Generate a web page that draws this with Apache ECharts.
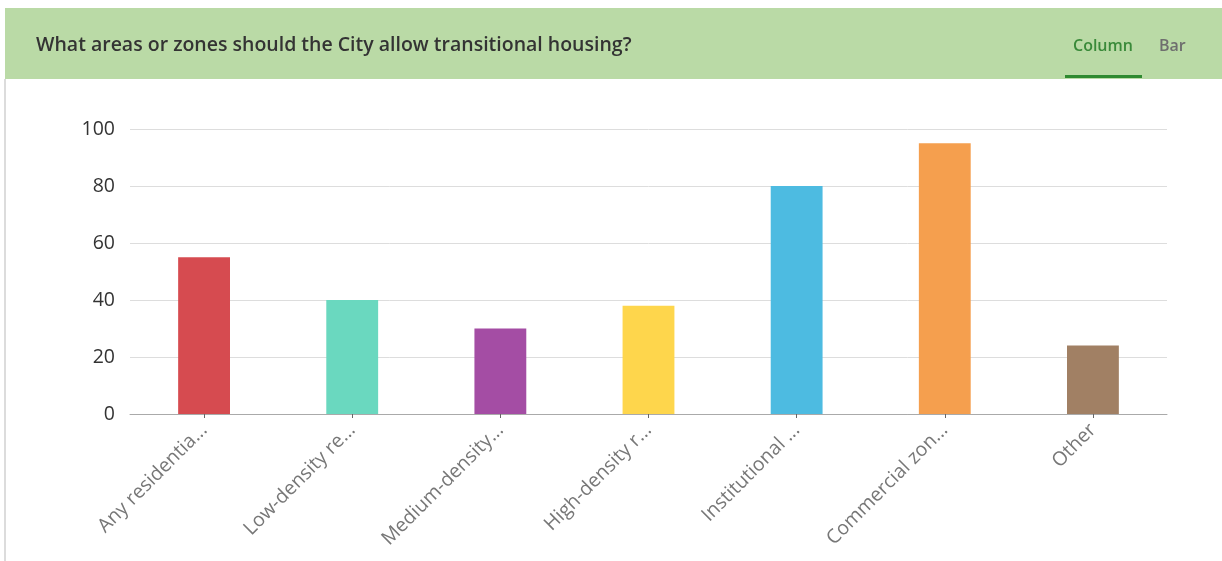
<!DOCTYPE html>
<html>
<head>
<meta charset="utf-8">
<script src="https://cdn.jsdelivr.net/npm/echarts@6/dist/echarts.min.js"></script>
<style>
    html, body {
        margin: 0;
        padding: 0;
        background: #fff;
    }
    #chart {
        width: 1222px;
        height: 561px;
    }
</style>
</head>
<body>
<div id="chart"></div>
<script>
    const titleText = 'What areas or zones should the City allow transitional housing?';
    const categories = ['Any residentia...', 'Low-density re...', 'Medium-density...', 'High-density r...', 'Institutional ...', 'Commercial zon...', 'Other'];
    const counts = [55, 40, 30, 38, 80, 95, 24];
    const barColors = ['#d64b50', '#6ad8bf', '#a44da4', '#fed64c', '#4dbbe1', '#f59f4e', '#a18064'];
    const yTicks = [0, 20, 40, 60, 80, 100];

    const chart = echarts.init(document.getElementById('chart'));

    const option = {
        animation: false,
        grid: {
            left: 130,
            right: 55,
            top: 129,
            bottom: 147,
            containLabel: false
        },
        graphic: [
            // header band
            {
                type: 'rect',
                shape: {x: 5, y: 8, width: 1217, height: 71},
                style: {fill: '#badaa6'},
                silent: true
            },
            // left border of the card
            {
                type: 'rect',
                shape: {x: 4, y: 79, width: 2, height: 482},
                style: {fill: '#dcdcdc'},
                silent: true
            },
            {
                type: 'text',
                x: 36,
                y: 45,
                style: {
                    text: titleText,
                    font: '600 19.5px "Open Sans", sans-serif',
                    fill: '#333333',
                    verticalAlign: 'middle'
                }
            },
            {
                type: 'text',
                x: 1073,
                y: 46,
                style: {
                    text: 'Column',
                    font: '600 16px "Open Sans", sans-serif',
                    fill: '#3a8a3a',
                    verticalAlign: 'middle'
                }
            },
            {
                type: 'text',
                x: 1159,
                y: 46,
                style: {
                    text: 'Bar',
                    font: '600 16px "Open Sans", sans-serif',
                    fill: '#6e6e6e',
                    verticalAlign: 'middle'
                }
            },
            // active tab underline
            {
                type: 'rect',
                shape: {x: 1065, y: 75, width: 77, height: 3},
                style: {fill: '#2f8a30'},
                silent: true
            }
        ],
        xAxis: {
            type: 'category',
            data: categories,
            axisLine: {lineStyle: {color: '#aaaaaa', width: 1}},
            axisTick: {show: true, alignWithLabel: true, length: 4, lineStyle: {color: '#666'}},
            axisLabel: {
                rotate: 45,
                interval: 0,
                margin: 13,
                color: '#777777',
                fontSize: 19.5,
                fontFamily: 'Open Sans'
            }
        },
        yAxis: {
            type: 'value',
            min: yTicks[0],
            max: yTicks[yTicks.length - 1],
            interval: 20,
            axisLine: {show: false},
            axisTick: {show: false},
            axisLabel: {
                color: '#333333',
                fontSize: 19.5,
                fontFamily: 'Open Sans',
                margin: 15
            },
            splitLine: {lineStyle: {color: '#dddddd', width: 1}}
        },
        series: [
            {
                type: 'bar',
                barWidth: '35%',
                data: counts.map((v, i) => ({
                    value: v,
                    itemStyle: {color: barColors[i]}
                }))
            }
        ]
    };

    chart.setOption(option);
</script>
</body>
</html>
